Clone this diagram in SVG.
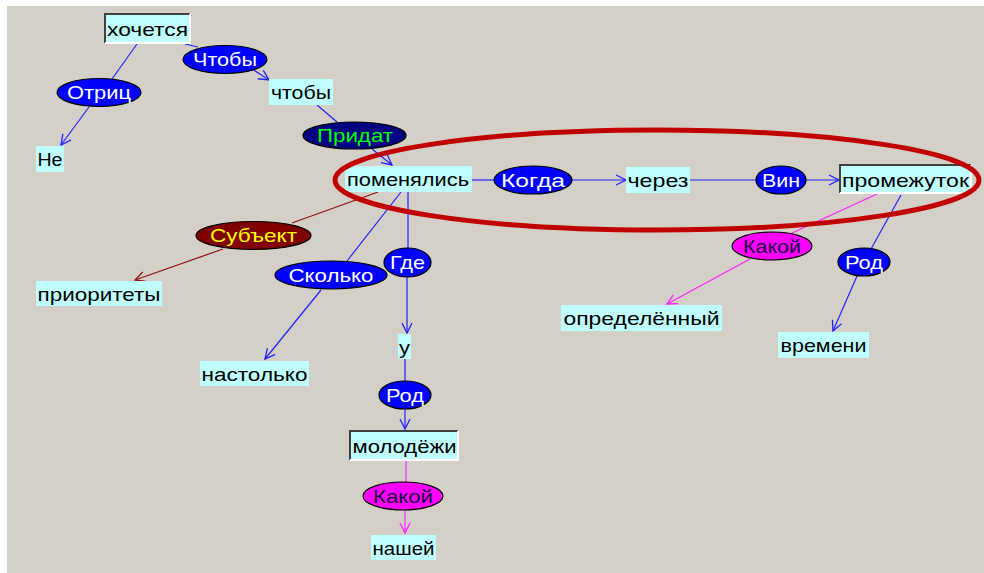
<svg xmlns="http://www.w3.org/2000/svg" width="984" height="573" viewBox="0 0 984 573">
<style>
.bg{fill:#D4D0C8}
.box{fill:#C0FFFF}
.t{font-family:"Liberation Sans",Arial,sans-serif;font-size:19px;fill:#000000}
.tw{fill:#FFFFFF}
.tg{fill:#00FF00}
.ty{fill:#FFFF00}
.tk{fill:#200040}
.eb{fill:#0000FF;stroke:#000000;stroke-width:1.2}
.en{fill:#000080;stroke:#000000;stroke-width:1.2}
.em{fill:#800000;stroke:#000000;stroke-width:1.2}
.ep{fill:#FF00FF;stroke:#000000;stroke-width:1.2}
.sd{fill:none;stroke:#404040;stroke-width:2}
.sl{fill:none;stroke:#FFFFFF;stroke-width:2}
.cb{stroke:#2020FF;stroke-width:1.2;fill:none}
.cm{stroke:#FF20FF;stroke-width:1.2;fill:none}
.cr{stroke:#8B1010;stroke-width:1.2;fill:none}
</style>
<defs>
<marker id="ab" markerUnits="userSpaceOnUse" markerWidth="14" markerHeight="14" refX="11" refY="6" orient="auto"><path d="M1,1 L11,6 L1,11" fill="none" stroke="#2020FF" stroke-width="1.3"/></marker>
<marker id="am" markerUnits="userSpaceOnUse" markerWidth="14" markerHeight="14" refX="11" refY="6" orient="auto"><path d="M1,1 L11,6 L1,11" fill="none" stroke="#FF20FF" stroke-width="1.3"/></marker>
<marker id="ar" markerUnits="userSpaceOnUse" markerWidth="14" markerHeight="14" refX="11" refY="6" orient="auto"><path d="M1,1 L11,6 L1,11" fill="none" stroke="#8B1010" stroke-width="1.3"/></marker>
</defs>
<rect x="0" y="0" width="984" height="573" fill="#FFFFFF"/>
<rect class="bg" x="7" y="6" width="977" height="567"/>

<g id="connectors">
<line class="cb" x1="137" y1="44" x2="112" y2="79"/>
<line class="cb" x1="89" y1="107" x2="61" y2="145" marker-end="url(#ab)"/>
<line class="cb" x1="185" y1="44" x2="198" y2="47"/>
<line class="cb" x1="252" y1="69" x2="269" y2="80" marker-end="url(#ab)"/>
<line class="cb" x1="317" y1="105" x2="337" y2="122"/>
<line class="cb" x1="372" y1="149" x2="392" y2="165" marker-end="url(#ab)"/>
<line class="cr" x1="378" y1="192" x2="292" y2="223"/>
<line class="cr" x1="223" y1="249" x2="135" y2="280" marker-end="url(#ar)"/>
<line class="cb" x1="401" y1="192" x2="347" y2="261"/>
<line class="cb" x1="321" y1="290" x2="265" y2="359" marker-end="url(#ab)"/>
<line class="cb" x1="408" y1="192" x2="408" y2="248"/>
<line class="cb" x1="407" y1="277" x2="407" y2="333" marker-end="url(#ab)"/>
<line class="cb" x1="405" y1="359" x2="405" y2="381"/>
<line class="cb" x1="405" y1="409" x2="405" y2="429" marker-end="url(#ab)"/>
<line class="cm" x1="406" y1="461" x2="406" y2="482"/>
<line class="cm" x1="405" y1="510" x2="405" y2="533" marker-end="url(#am)"/>
<line class="cb" x1="472" y1="180" x2="494" y2="180"/>
<line class="cb" x1="572" y1="180" x2="626" y2="180" marker-end="url(#ab)"/>
<line class="cb" x1="690" y1="180" x2="756" y2="180"/>
<line class="cb" x1="806" y1="180" x2="839" y2="180" marker-end="url(#ab)"/>
<line class="cm" x1="877" y1="194" x2="790" y2="234"/>
<line class="cm" x1="750" y1="259" x2="667" y2="304" marker-end="url(#am)"/>
<line class="cb" x1="901" y1="195" x2="871" y2="249"/>
<line class="cb" x1="857" y1="276" x2="833" y2="331" marker-end="url(#ab)"/>
</g>

<g id="n-hochetsya">
<rect class="box" x="104" y="13" width="87" height="30"/>
<polyline class="sd" points="105,43 105,14 190,14"/>
<polyline class="sl" points="105,43 190,43 190,14"/>
<text class="t" x="107" y="36" textLength="81" lengthAdjust="spacingAndGlyphs">хочется</text>
</g>
<g id="n-chtoby-rel">
<ellipse class="eb" cx="225" cy="59.5" rx="42" ry="14"/>
<text class="t tw" x="225" y="66" text-anchor="middle" textLength="64" lengthAdjust="spacingAndGlyphs">Чтобы</text>
</g>
<g id="n-otric">
<ellipse class="eb" cx="99" cy="92.5" rx="42" ry="14"/>
<text class="t tw" x="99" y="99" text-anchor="middle" textLength="64" lengthAdjust="spacingAndGlyphs">Отриц</text>
</g>
<g id="n-chtoby">
<rect class="box" x="269" y="79" width="64" height="26"/>
<text class="t" x="301" y="99" text-anchor="middle" textLength="60" lengthAdjust="spacingAndGlyphs">чтобы</text>
</g>
<g id="n-ne">
<rect class="box" x="36" y="146" width="28" height="26"/>
<text class="t" x="50" y="166" text-anchor="middle" textLength="25" lengthAdjust="spacingAndGlyphs">Не</text>
</g>
<g id="n-pridat">
<ellipse class="en" cx="354.5" cy="135.5" rx="51.5" ry="13.5"/>
<text class="t tg" x="355" y="142" text-anchor="middle" textLength="76" lengthAdjust="spacingAndGlyphs">Придат</text>
</g>
<g id="n-pomenyalis">
<rect class="box" x="345" y="166" width="127" height="26"/>
<text class="t" x="408" y="186" text-anchor="middle" textLength="122" lengthAdjust="spacingAndGlyphs">поменялись</text>
</g>
<g id="n-kogda">
<ellipse class="eb" cx="533" cy="180" rx="39" ry="14"/>
<text class="t tw" x="533" y="186.5" text-anchor="middle" textLength="64" lengthAdjust="spacingAndGlyphs">Когда</text>
</g>
<g id="n-cherez">
<rect class="box" x="626" y="167" width="64" height="26"/>
<text class="t" x="658" y="186.5" text-anchor="middle" textLength="61" lengthAdjust="spacingAndGlyphs">через</text>
</g>
<g id="n-vin">
<ellipse class="eb" cx="781" cy="180" rx="25" ry="14"/>
<text class="t tw" x="781" y="186.5" text-anchor="middle" textLength="38" lengthAdjust="spacingAndGlyphs">Вин</text>
</g>
<g id="n-promezhutok">
<rect class="box" x="839" y="164" width="133" height="30"/>
<polyline class="sd" points="840,193 840,165 971,165"/>
<polyline class="sl" points="840,193 971,193 971,165"/>
<text class="t" x="905.5" y="187" text-anchor="middle" textLength="127" lengthAdjust="spacingAndGlyphs">промежуток</text>
</g>
<g id="n-kakoy1">
<ellipse class="ep" cx="772" cy="246" rx="40" ry="14"/>
<text class="t tk" x="772" y="252.5" text-anchor="middle" textLength="58" lengthAdjust="spacingAndGlyphs">Какой</text>
</g>
<g id="n-rod1">
<ellipse class="eb" cx="864" cy="262" rx="26" ry="14"/>
<text class="t tw" x="864" y="268.5" text-anchor="middle" textLength="38" lengthAdjust="spacingAndGlyphs">Род</text>
</g>
<g id="n-opredelenny">
<rect class="box" x="561" y="305" width="161" height="26"/>
<text class="t" x="641.5" y="325" text-anchor="middle" textLength="156" lengthAdjust="spacingAndGlyphs">определённый</text>
</g>
<g id="n-vremeni">
<rect class="box" x="778" y="332" width="91" height="26"/>
<text class="t" x="823.5" y="352" text-anchor="middle" textLength="86" lengthAdjust="spacingAndGlyphs">времени</text>
</g>
<g id="n-subekt">
<ellipse class="em" cx="253.5" cy="235.5" rx="57.5" ry="14"/>
<text class="t ty" x="253.5" y="242" text-anchor="middle" textLength="87" lengthAdjust="spacingAndGlyphs">Субъект</text>
</g>
<g id="n-prioritety">
<rect class="box" x="36" y="281" width="126" height="25"/>
<text class="t" x="99" y="300.5" text-anchor="middle" textLength="123" lengthAdjust="spacingAndGlyphs">приоритеты</text>
</g>
<g id="n-skolko">
<ellipse class="eb" cx="331" cy="275" rx="56" ry="14"/>
<text class="t tw" x="331" y="281.5" text-anchor="middle" textLength="85" lengthAdjust="spacingAndGlyphs">Сколько</text>
</g>
<g id="n-gde">
<ellipse class="eb" cx="407.5" cy="262.5" rx="23.5" ry="14.5"/>
<text class="t tw" x="407.5" y="269" text-anchor="middle" textLength="35" lengthAdjust="spacingAndGlyphs">Где</text>
</g>
<g id="n-nastolko">
<rect class="box" x="200" y="361" width="109" height="25"/>
<text class="t" x="254.5" y="380.5" text-anchor="middle" textLength="106" lengthAdjust="spacingAndGlyphs">настолько</text>
</g>
<g id="n-u">
<rect class="box" x="398" y="334" width="13" height="25"/>
<text class="t" x="404.5" y="353.5" text-anchor="middle" textLength="11" lengthAdjust="spacingAndGlyphs">у</text>
</g>
<g id="n-rod2">
<ellipse class="eb" cx="405" cy="395" rx="26" ry="14"/>
<text class="t tw" x="405" y="401.5" text-anchor="middle" textLength="38" lengthAdjust="spacingAndGlyphs">Род</text>
</g>
<g id="n-molodezhi">
<rect class="box" x="349" y="430" width="110" height="31"/>
<polyline class="sd" points="350,460 350,431 458,431"/>
<polyline class="sl" points="350,460 458,460 458,431"/>
<text class="t" x="404.5" y="453" text-anchor="middle" textLength="104" lengthAdjust="spacingAndGlyphs">молодёжи</text>
</g>
<g id="n-kakoy2">
<ellipse class="ep" cx="403" cy="496" rx="40" ry="14"/>
<text class="t tk" x="403" y="502.5" text-anchor="middle" textLength="60" lengthAdjust="spacingAndGlyphs">Какой</text>
</g>
<g id="n-nashey">
<rect class="box" x="371" y="535" width="65" height="25"/>
<text class="t" x="403.5" y="554.5" text-anchor="middle" textLength="62" lengthAdjust="spacingAndGlyphs">нашей</text>
</g>

<ellipse cx="657" cy="180" rx="322" ry="50" fill="none" stroke="#C00000" stroke-width="5"/>
</svg>
